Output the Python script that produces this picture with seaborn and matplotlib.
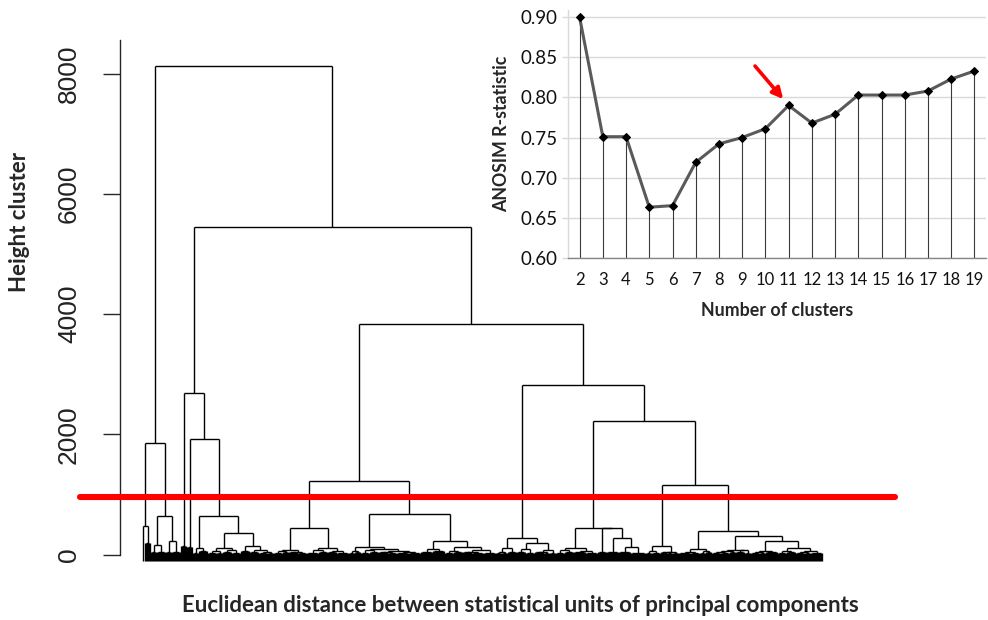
import re
import numpy as np
import pandas as pd
import matplotlib
matplotlib.use("Agg")
import matplotlib.pyplot as plt
import seaborn as sns
from matplotlib.collections import LineCollection

# ------------------------------------------------------------------
# Dendrogram data.  Terminal sub-trees in a mini-Newick notation:
#   "(a b ...)h"  -> children joined at height h
#   "n@h"         -> n leaves joined by one bar at height h
#   "."           -> single leaf
# ------------------------------------------------------------------
A1 = "(. 2@190)470"
A2 = "((2@40 3@50)158 (2@50 3@40)225)645"
C1 = "2@150"
C2a = "2@120"
C2b_left = "(2@30 3@60)110"
C2b_227 = "((3@30 2@20)60 (3@40 3@30)80)110"
C2b_252 = "(3@60 (3@40 (3@30 2@20)50)80)150"
E1_288 = "((3@30 2@50)60 (3@40 3@30)45)70"
E1_327 = "((4@30 3@50)70 (3@40 4@30)60)113"
E2_371 = "((2@30 2@40)60 ((3@30 3@40)70 ((3@40 3@30)50 (4@30 4@20)40)60)100)130"
E2_451 = "((4@40 4@60)100 ((3@30 3@50)60 ((3@40 4@20)50 4@30)70)130)225"
G = "(((2@30 2@20)50 3@40)113 ((3@40 3@30)90 ((3@40 2@20)50 2@30)70)196)270"
I = "(((3@30 3@40)70 (4@40 4@30)60)113 (3@40 (4@50 (4@40 5@30)130)275)435)446"
K = "((2@30 3@20)60 ((2@40 2@30)40 2@20)50)141"
L = ("(((4@30 3@20)40 (2@30 2@40)60)86 ((((3@20 3@30)40 2@50)60 (3@40 2@30)70)80 "
     "(((3@20 2@30)40 4@50)60 ((3@30 3@40)60 ((3@30 2@20)40 4@30)60)113)225)308)396")

terminal_groups = {
    "A1": A1, "A2": A2, "C1": C1, "C2a": C2a, "C2b_left": C2b_left,
    "C2b_227": C2b_227, "C2b_252": C2b_252, "E1_288": E1_288, "E1_327": E1_327,
    "E2_371": E2_371, "E2_451": E2_451, "G": G, "I": I, "K": K, "L": L,
}

# upper merges (left, right, height, new name)
merge_left = ["A1", "C2b_227", "C2b_left", "C2a", "C1", "E1_288", "E2_371", "E1", "K", "I", "G", "E", "C", "A"]
merge_right = ["A2", "C2b_252", "C2b_right", "C2b", "C2", "E1_327", "E2_451", "E2", "L", "J", "H", "F", "D", "B"]
merge_height = [1855, 355, 645, 1922, 2680, 446, 668, 1223, 1156, 2221, 2820, 3835, 5450, 8130]
merge_name = ["A", "C2b_right", "C2b", "C2", "C", "E1", "E2", "E", "J", "H", "F", "D", "B", "root"]

cut_height = 960
leaf_floor = -100
y_ticks = [0, 2000, 4000, 6000, 8000]

# ------------------------------------------------------------------
# Inset: ANOSIM R statistic vs number of clusters
# ------------------------------------------------------------------
n_clusters = [2, 3, 4, 5, 6, 7, 8, 9, 10, 11, 12, 13, 14, 15, 16, 17, 18, 19]
anosim_r = [0.900, 0.751, 0.751, 0.663, 0.665, 0.719, 0.742, 0.750, 0.761,
            0.790, 0.768, 0.779, 0.803, 0.803, 0.803, 0.808, 0.823, 0.833]
best_k = 11
r_ticks = [0.60, 0.65, 0.70, 0.75, 0.80, 0.85, 0.90]

# ------------------------------------------------------------------
TOK = re.compile(r"\(|\)\s*-?[\d.]+|\d+@[\d.]+|\.")


def parse(s):
    toks = TOK.findall(s)
    pos = 0

    def node():
        nonlocal pos
        t = toks[pos]
        pos += 1
        if t == "(":
            kids = []
            while not toks[pos].startswith(")"):
                kids.append(node())
            h = float(toks[pos][1:])
            pos += 1
            return {"kids": kids, "h": h}
        if t == ".":
            return {"kids": None, "h": leaf_floor}
        n, h = t.split("@")
        return {"kids": [{"kids": None, "h": leaf_floor} for _ in range(int(n))], "h": float(h)}

    return node()


nodes = {k: parse(v) for k, v in terminal_groups.items()}
for l, r, h, nm in zip(merge_left, merge_right, merge_height, merge_name):
    nodes[nm] = {"kids": [nodes[l], nodes[r]], "h": float(h)}
root = nodes["root"]

branch_segs, leaf_segs_thick, leaf_segs_thin = [], [], []
counter = [0]


def layout(nd):
    if nd["kids"] is None:
        x = counter[0]
        counter[0] += 1
        return x
    xs = [layout(k) for k in nd["kids"]]
    for k, x in zip(nd["kids"], xs):
        seg = [(x, k["h"]), (x, nd["h"])]
        if k["kids"] is None:
            (leaf_segs_thick if nd["h"] <= 200 else leaf_segs_thin).append(seg)
        else:
            branch_segs.append(seg)
    branch_segs.append([(xs[0], nd["h"]), (xs[-1], nd["h"])])
    return (xs[0] + xs[-1]) / 2


layout(root)
n_leaves = counter[0]

# ------------------------------------------------------------------
sns.set_style("white")
plt.rcParams["font.family"] = ["Lato", "DejaVu Sans"]

W, H = 988, 620
fig = plt.figure(figsize=(W / 100, H / 100), dpi=100)

# main dendrogram axes (pixel-based layout)
ax = fig.add_axes([120 / W, (H - 590.6) / H, 780 / W, 565 / H])
ax.add_collection(LineCollection(branch_segs, colors="black", linewidths=1.0))
ax.add_collection(LineCollection(leaf_segs_thin, colors="black", linewidths=1.0))
ax.add_collection(LineCollection(leaf_segs_thick, colors="black", linewidths=2.4))
ax.set_xlim(-7.667, 252.333)
ax.set_ylim(-600, 8800)
ax.axhline(cut_height, xmin=-0.0513, xmax=0.9936, color="#ff0000", lw=4.4,
           clip_on=False, zorder=5)

for s in ["top", "right", "bottom"]:
    ax.spines[s].set_visible(False)
ax.spines["left"].set_bounds(0, 8560)
ax.spines["left"].set_linewidth(1.0)
ax.set_xticks([])
ax.set_yticks(y_ticks)
ax.set_yticklabels([str(v) for v in y_ticks], rotation=90, va="center",
                   family="Liberation Sans", fontsize=19, color="#222222")
ax.tick_params(axis="y", length=12, width=1.0, pad=16, left=True, direction="out")

fig.text(20 / W, 1 - 222 / H, "Height cluster", rotation=90, ha="center", va="center",
         fontsize=16, fontweight="bold")
fig.text(520 / W, 1 - 605 / H,
         "Euclidean distance between statistical units of principal components",
         ha="center", va="center", fontsize=16, fontweight="bold")

# inset
ax2 = fig.add_axes([568 / W, (H - 257.7) / H, 418 / W, 247.7 / H])
ax2.set_facecolor("none")
ax2.set_xlim(1.5, 19.5)
ax2.set_ylim(0.60, 0.60 + 247.7 / 801.3)
ax2.set_yticks(r_ticks)
ax2.set_yticklabels([f"{v:.2f}" for v in r_ticks], fontsize=13.5, color="#111111")
ax2.set_xticks(n_clusters)
ax2.set_xticklabels([str(v) for v in n_clusters], fontsize=12, color="#111111")
ax2.yaxis.grid(True, color="#d9d9d9", lw=1.0)
ax2.xaxis.grid(False)
ax2.set_axisbelow(True)
ax2.tick_params(axis="y", length=4.3, width=1.0, color="#d9d9d9", pad=3, left=True)
ax2.tick_params(axis="x", length=0, pad=10)
for s in ["top", "right"]:
    ax2.spines[s].set_visible(False)
ax2.spines["left"].set_color("#d9d9d9")
ax2.spines["left"].set_linewidth(1.0)
ax2.spines["bottom"].set_color("#868686")
ax2.spines["bottom"].set_linewidth(1.0)

df = pd.DataFrame({"k": n_clusters, "r": anosim_r})
ax2.vlines(df["k"], 0.60, df["r"], colors="#3a3a3a", lw=0.8, zorder=2)
sns.lineplot(data=df, x="k", y="r", ax=ax2, color="#5a5a5a", lw=2.2, marker="D",
             markersize=4.5, markerfacecolor="black", markeredgecolor="black", zorder=3)
ax2.set_xlabel("")
ax2.set_ylabel("")
ax2.annotate("", xy=(best_k, anosim_r[n_clusters.index(best_k)]), xytext=(-24.2, 28.4),
             textcoords="offset points",
             arrowprops=dict(arrowstyle="-|>", color="#ff0000", lw=2.6, mutation_scale=16,
                             shrinkA=0, shrinkB=6))

fig.text(502 / W, 1 - 134 / H, "ANOSIM R-statistic", rotation=90, ha="center", va="center",
         fontsize=12.8, fontweight="bold")
fig.text(777 / W, 1 - 310 / H, "Number of clusters", ha="center", va="center",
         fontsize=12.8, fontweight="bold")

fig.savefig("out.png", dpi=100)
